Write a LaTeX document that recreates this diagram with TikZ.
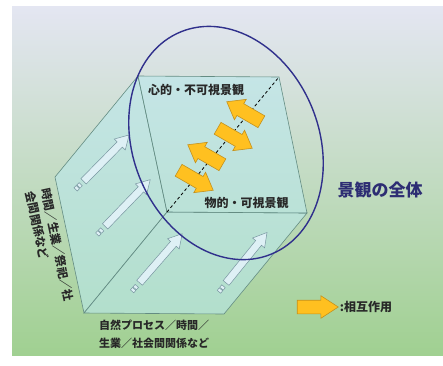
\documentclass[tikz,border=0pt]{standalone}
\usepackage{fontspec}
\setmainfont{Noto Sans CJK JP}
\usetikzlibrary{shapes.arrows,positioning}

\definecolor{bgtop}{RGB}{228,230,242}
\definecolor{bgmid}{RGB}{200,228,210}
\definecolor{bgbot}{RGB}{160,208,145}
\definecolor{facefill}{RGB}{186,232,236}
\definecolor{edgec}{RGB}{100,140,130}
\definecolor{ringc}{RGB}{48,48,140}
\definecolor{goldfill}{RGB}{255,192,32}
\definecolor{golddraw}{RGB}{195,145,30}
\definecolor{navytext}{RGB}{45,45,115}
\definecolor{labelc}{RGB}{40,40,40}
\definecolor{hollowdraw}{RGB}{120,150,160}
\definecolor{hollowfill}{RGB}{222,240,245}

\tikzset{
  face/.style={draw=edgec,line width=0.6pt,fill=facefill,fill opacity=0.6},
  mutual/.style={single arrow,draw=golddraw,fill=goldfill,line width=0.6pt,inner sep=6.5pt,
    single arrow head extend=5pt,single arrow tip angle=74,minimum height=40pt},
  flow/.style={single arrow,draw=hollowdraw,fill=hollowfill,line width=0.5pt,inner sep=3.5pt,
    single arrow head extend=4pt,single arrow tip angle=60,minimum height=65pt},
  flowtail/.style={draw=hollowdraw,fill=hollowfill,line width=0.5pt,inner sep=0pt,
    minimum width=3.2pt,minimum height=4.5pt},
  facetext/.style={text=labelc,font=\bfseries\fontsize{12}{14}\selectfont,inner sep=0pt},
  sidetext/.style={text=labelc,font=\bfseries\fontsize{11}{18}\selectfont,inner sep=0pt,align=left}
}

\begin{document}
\begin{tikzpicture}[x=1pt,y=-1pt]
\useasboundingbox (0,0) rectangle (443,365);
\fill[white] (0,0) rectangle (443,365);
\shade[top color=bgtop,middle color=bgmid,bottom color=bgbot] (12,6) rectangle (443,355);

% box corners
\coordinate (tl) at (138,76);
\coordinate (tr) at (279,77);
\coordinate (br) at (307,213);
\coordinate (bl) at (167,212);
\coordinate (btl) at (55,177);
\coordinate (bbl) at (84,313);
\coordinate (bbr) at (224,314);

\draw[face] (tl) -- (btl) -- (bbl) -- (bl) -- cycle;
\draw[face] (bl) -- (bbl) -- (bbr) -- (br) -- cycle;
\draw[face] (tl) -- (tr) -- (br) -- (bl) -- cycle;

\draw[dash pattern=on 3pt off 2.5pt,line width=0.8pt,shorten >=2pt] (bl) -- (tr);

% interaction arrows
\node[mutual,rotate=150] (m1) at (248,114) {};
\node[mutual,rotate=-30] (m2) at (231,136) {};
\node[mutual,rotate=150] (m3) at (209,157) {};
\node[mutual,rotate=-30] (m4) at (192,178) {};

% flows on the side panels
\begin{scope}[shift={(75,190)},rotate=45.5,transform shape]
\node[flowtail] (t1a) at (2.5,0) {};
\node[flowtail] (t1b) at (6.5,0) {};
\node[flow] (f1) at (41.5,0) {};
\end{scope}
\begin{scope}[shift={(96.6,235.2)},rotate=46,transform shape]
\node[flowtail] (t2a) at (2.5,0) {};
\node[flowtail] (t2b) at (6.5,0) {};
\node[flow] (f2) at (41.5,0) {};
\end{scope}
\begin{scope}[shift={(131.5,292)},rotate=49,transform shape]
\node[flowtail] (t3a) at (2.5,0) {};
\node[flowtail] (t3b) at (6.5,0) {};
\node[flow] (f3) at (41.5,0) {};
\end{scope}
\begin{scope}[shift={(218.4,292.5)},rotate=51,transform shape]
\node[flowtail] (t4a) at (2.5,0) {};
\node[flowtail] (t4b) at (6.5,0) {};
\node[flow] (f4) at (41.5,0) {};
\end{scope}

% whole landscape
\draw[ringc,line width=1.4pt,rotate around={22:(226,143)}] (226,143) ellipse [x radius=93pt,y radius=120pt];

\node[facetext] (mind) at (196,90) {心的・不可視景観};
\node[facetext] (thing) at (246.5,203) {物的・可視景観};
\node[text=navytext,font=\bfseries\fontsize{17}{20}\selectfont] (whole) at (380,190) {景観の全体};

\node[sidetext,font=\bfseries\fontsize{11.5}{15.7}\selectfont,rotate=-78,anchor=north west] (side) at (51,187) {時間／生業／祭祀／社\\会間関係など};
\node[sidetext,anchor=west] (base) at (99,334) {自然プロセス／時間／\\生業／社会間関係など};

% legend
\node[mutual,inner sep=6.5pt,single arrow head extend=4.5pt,single arrow tip angle=66,minimum height=41pt] (key) at (312.5,307) {};
\node[facetext,right=1pt of key] (keytext) {:相互作用};
\end{tikzpicture}
\end{document}
